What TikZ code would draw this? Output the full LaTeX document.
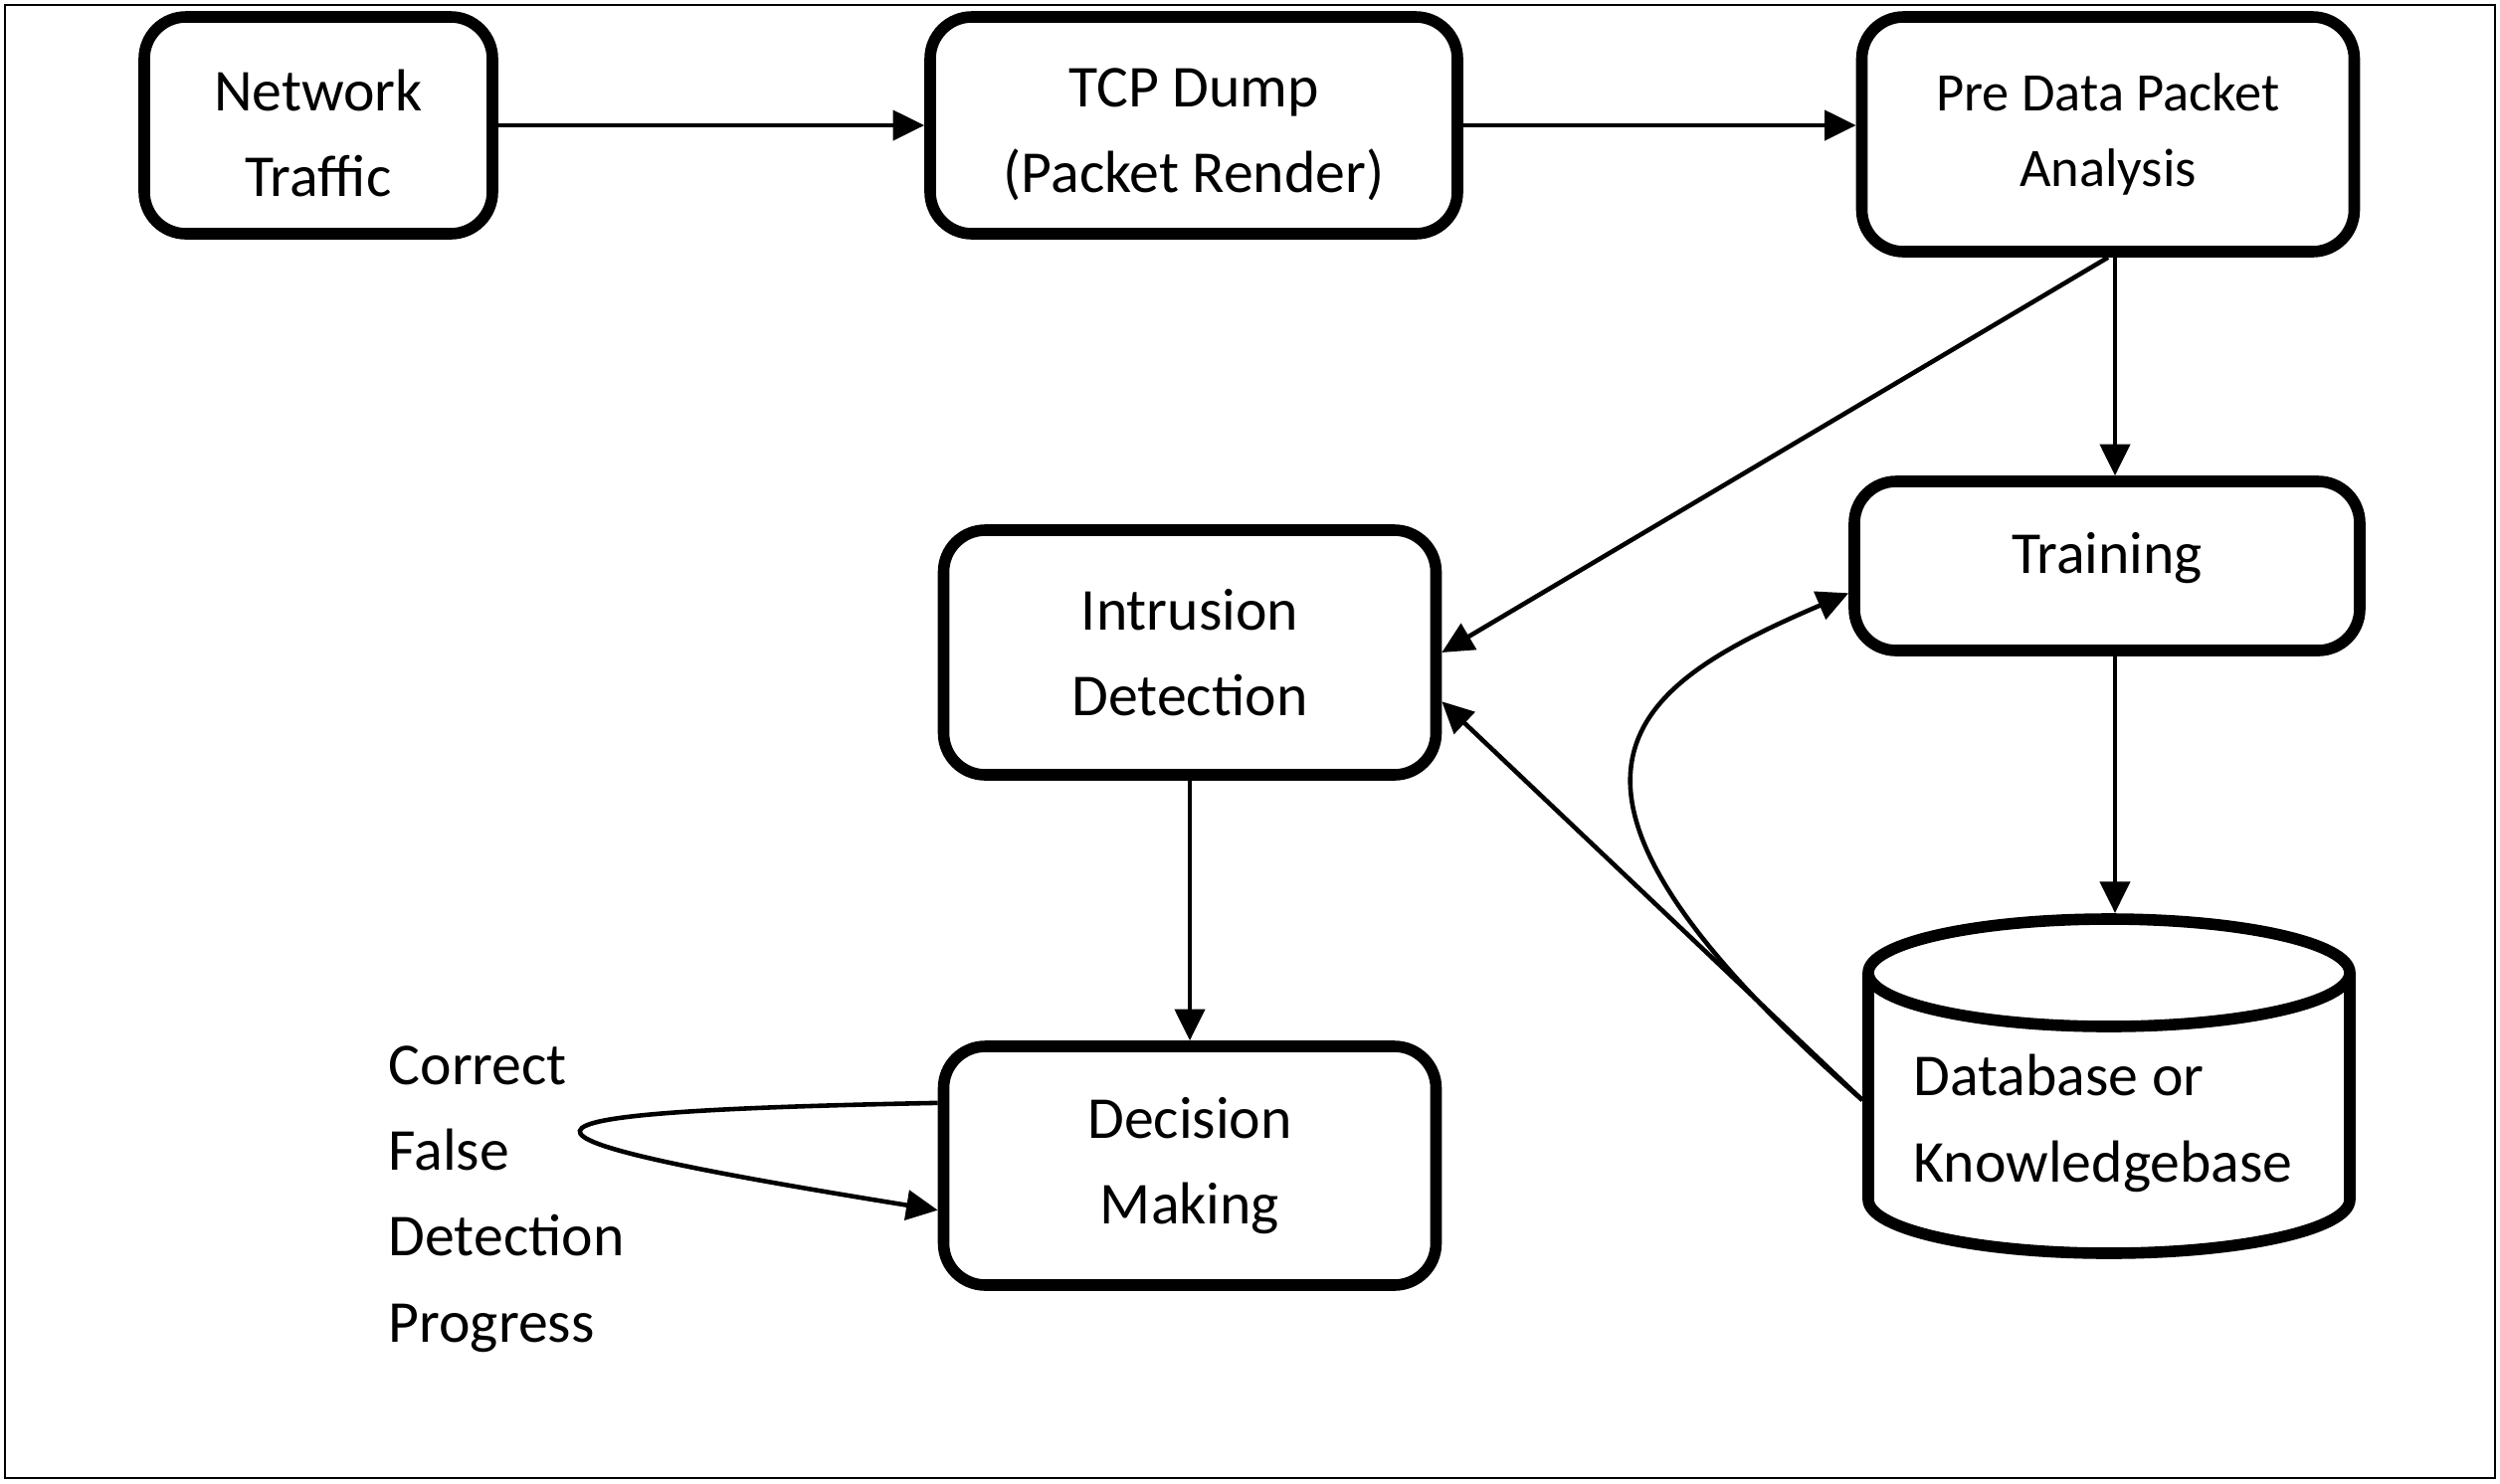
\documentclass[tikz,border=0pt]{standalone}
\usepackage{fontspec}
\setmainfont{Carlito}
\usetikzlibrary{arrows.meta}
\begin{document}
\begin{tikzpicture}[
  blk/.style={draw, line width=3.3pt, rounded corners=0.42cm, align=center, font=\fontsize{17}{24.5}\selectfont},
  lnk/.style={line width=1.3pt, -{Triangle[length=9pt,width=8.5pt]}},
  dbline/.style={line width=3.3pt},
  lbl/.style={align=left, inner sep=0pt, font=\fontsize{17}{24.5}\selectfont}]
\useasboundingbox (0,0) rectangle (25.13,-14.91);
\draw[line width=0.8pt] (0.05,-0.05) rectangle (25.08,-14.86);
\node[blk, minimum width=3.5cm, minimum height=2.18cm, text height=41pt] (net) at (3.20,-1.26){Network\\Traffic};
\node[blk, minimum width=5.3cm, minimum height=2.18cm, text height=41pt] (tcp) at (12.00,-1.26){TCP Dump\\(Packet Render)};
\node[blk, minimum width=4.95cm, minimum height=2.36cm, font=\fontsize{15.5}{21.5}\selectfont] (pre) at (21.19,-1.35){Pre Data Packet\\Analysis};
\node[blk, minimum width=5.08cm, minimum height=1.70cm, text depth=7.5pt] (train) at (21.18,-5.69){Training};
\node[blk, minimum width=4.95cm, minimum height=2.46cm] (intr) at (11.96,-6.56){Intrusion\\Detection};
\node[blk, minimum width=4.95cm, minimum height=2.40cm] (dec) at (11.96,-11.72){Decision\\Making};
\draw[dbline] (18.78,-9.78) -- (18.78,-12.06) arc[start angle=180, end angle=360, x radius=2.42, y radius=0.54] -- (23.62,-9.78);
\draw[dbline] (21.20,-9.78) ellipse[x radius=2.42, y radius=0.54];
\node[lbl, anchor=base west] (db) at (19.23,-11.88){Database or\\Knowledgebase};
\coordinate (dbtop) at (21.26,-9.18);
\coordinate (dbleft) at (18.72,-11.06);
\node[lbl, anchor=base west] (res) at (3.90,-13.49){Correct\\False\\Detection\\Progress};
\draw[lnk] (net) -- (tcp);
\draw[lnk] (tcp.east) -- (tcp.east -| pre.west);
\draw[lnk] (pre.south -| dbtop) -- (train.north -| dbtop);
\draw[lnk] (pre.south) -- (intr.east);
\draw[lnk] (train.south -| dbtop) -- (dbtop);
\draw[lnk] (intr) -- (dec);
\draw[lnk] (dbleft) -- (intr.-11);
\draw[lnk] (dbleft) .. controls (15.00,-7.80) and (16.40,-6.90) .. (train.186);
\draw[lnk] (dec.166) .. controls (4.68,-11.18) and (4.68,-11.40) .. (dec.190);
\end{tikzpicture}
\end{document}
